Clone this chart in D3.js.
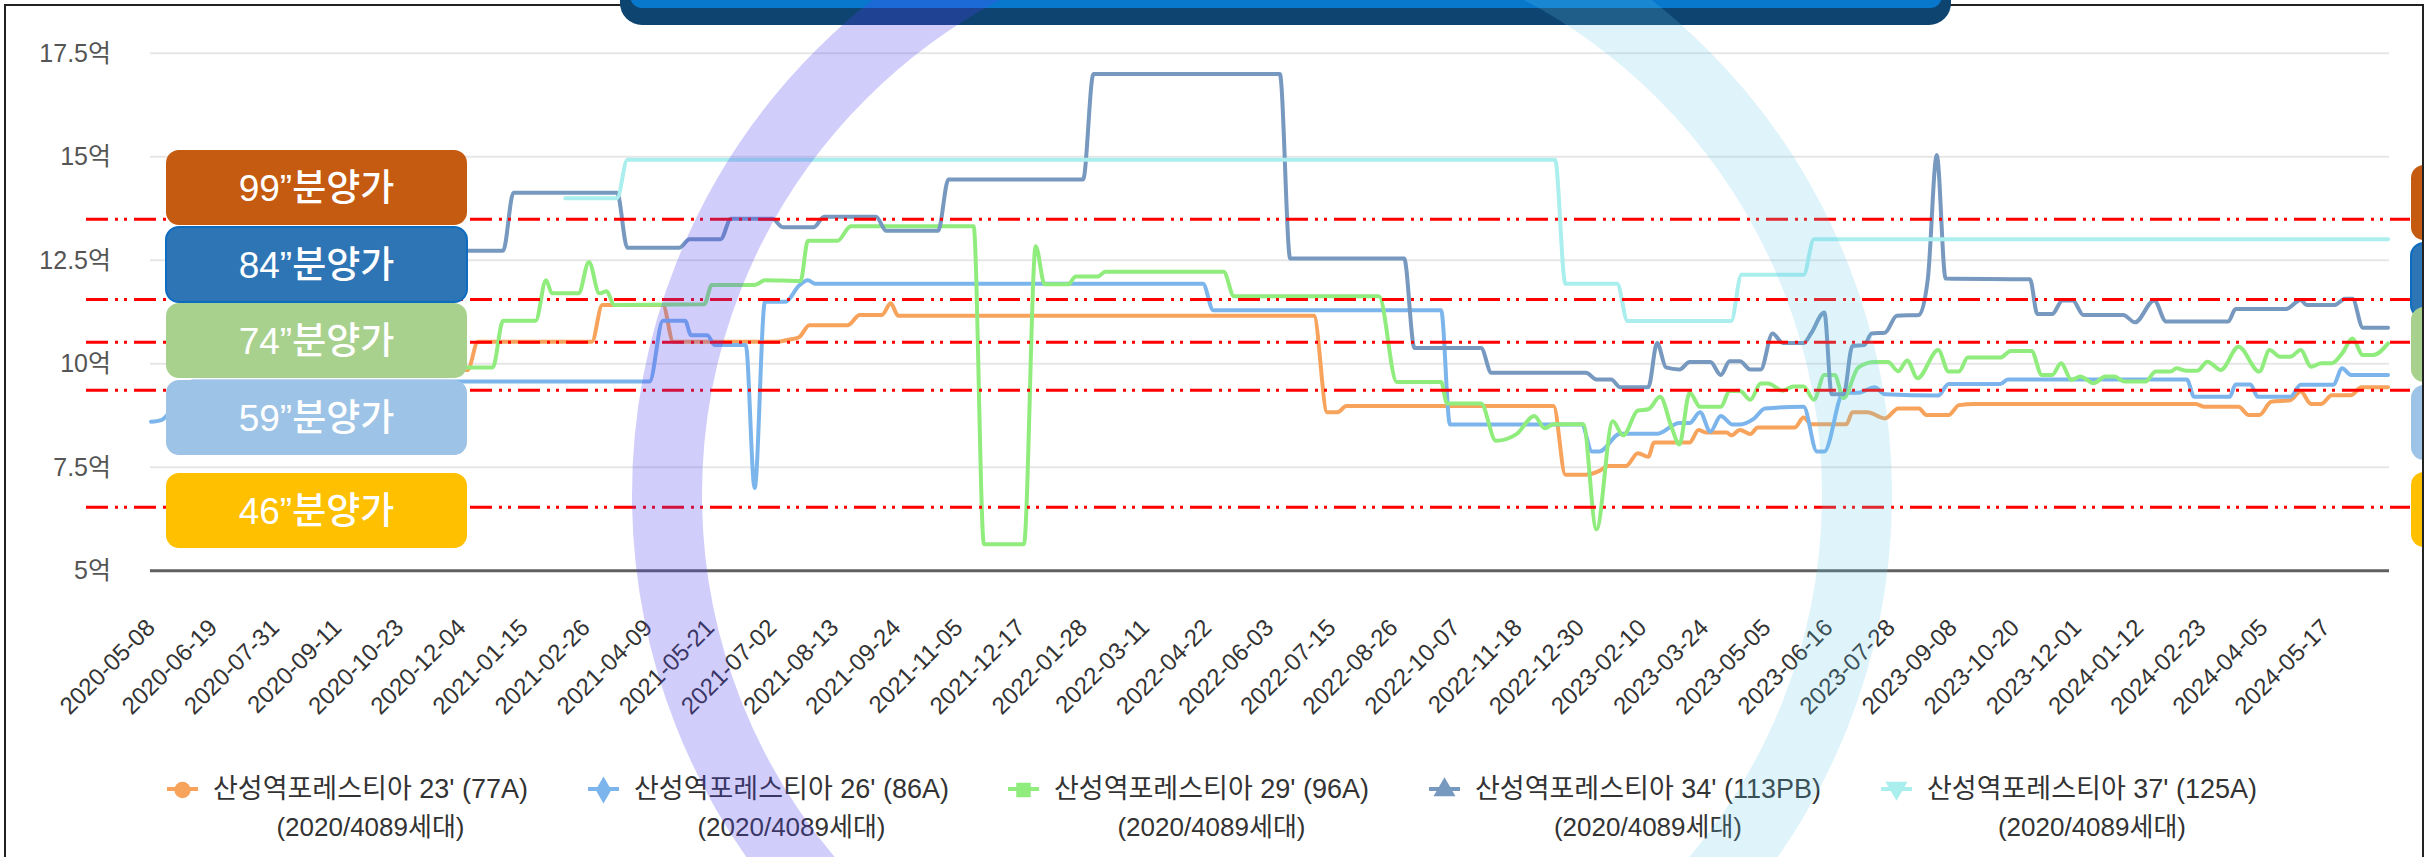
<!DOCTYPE html>
<html><head><meta charset="utf-8">
<script src="https://cdn.jsdelivr.net/npm/d3@7"></script>
<style>html,body{margin:0;padding:0;background:#fff;overflow:hidden} svg{display:block}</style>
</head><body>
<svg id="chart" width="2428" height="857"></svg>
<script>
// ---------------- DATA ----------------
const startDate = "2020-05-08";   // week 0 of the series below
const endDate   = "2024-06-28";
const tickLabels = ["2020-05-08","2020-06-19","2020-07-31","2020-09-11","2020-10-23","2020-12-04",
  "2021-01-15","2021-02-26","2021-04-09","2021-05-21","2021-07-02","2021-08-13","2021-09-24",
  "2021-11-05","2021-12-17","2022-01-28","2022-03-11","2022-04-22","2022-06-03","2022-07-15",
  "2022-08-26","2022-10-07","2022-11-18","2022-12-30","2023-02-10","2023-03-24","2023-05-05",
  "2023-06-16","2023-07-28","2023-09-08","2023-10-20","2023-12-01","2024-01-12","2024-02-23",
  "2024-04-05","2024-05-17"];
const yTicks = [5, 7.5, 10, 12.5, 15, 17.5];
const seriesNames = ["산성역포레스티아 23' (77A)","산성역포레스티아 26' (86A)","산성역포레스티아 29' (96A)",
  "산성역포레스티아 34' (113PB)","산성역포레스티아 37' (125A)"];
const seriesSub = "(2020/4089세대)";
const seriesColors = ["#F7A35C","#7CB5EC","#90ED7D","#7798BF","#AAEEEE"];

// [weeks after startDate, price in 억]
const s23 = [[4,9.85],[30.6,9.85],[31.5,10.53],[42.6,10.53],[43.5,11.42],[49.4,11.42],[50.4,10.53],[60.3,10.53],
  [61.5,10.58],[62.6,10.64],[63.6,10.93],[67.3,10.93],[68.4,11.18],[70.6,11.18],[71.4,11.46],[72.2,11.16],
  [112.3,11.16],[113.6,8.83],[114.6,8.83],[115.4,8.98],[135.4,8.98],[136.5,7.32],[138.6,7.32],[139.9,7.41],
  [140.7,7.53],[142.4,7.53],[143.5,7.84],[144.5,7.75],[145.2,8.1],[148.6,8.1],[149.4,8.4],[150.1,8.34],
  [152.2,8.34],[152.6,8.27],[153.4,8.4],[154.4,8.3],[155.2,8.46],[158.7,8.46],[159.5,8.7],[160.3,8.54],
  [163.7,8.54],[164.3,8.83],[165.7,8.83],[167.4,8.68],[168.7,8.92],[170.7,8.92],[171.4,8.76],[173.5,8.76],
  [174.5,9.0],[176.1,9.03],[197.4,9.03],[198.3,8.96],[201.5,8.96],[202.5,8.76],[203.6,8.76],[204.7,9.08],
  [206.6,9.12],[207.6,9.33],[208.6,9.03],[209.5,9.03],[210.5,9.24],[212.4,9.24],[213.4,9.43],[216,9.43]];
const s26 = [[0,8.6],[1,8.64],[4,9.57],[48.2,9.57],[49.4,11.04],[51.5,11.04],[52.2,10.69],[53.7,10.69],
  [54.4,10.45],[57.4,10.45],[58.3,7.0],[59.3,11.5],[61.3,11.5],[62.5,11.89],[63.4,12.02],[64.2,11.93],
  [101.6,11.93],[102.5,11.29],[124.5,11.29],[125.4,8.53],[138.1,8.53],[139.2,7.88],[139.9,7.88],[141.8,8.31],
  [145.4,8.31],[147.6,8.57],[148.6,8.57],[149.6,8.83],[150.5,8.36],[151.6,8.74],[152.7,8.53],[153.4,8.53],
  [154.7,8.66],[155.9,8.92],[159.5,8.96],[160.8,7.88],[161.5,7.88],[163.4,9.3],[164.8,9.3],[166.4,9.43],
  [167.4,9.26],[172.5,9.23],[173.5,9.51],[178.5,9.51],[179.3,9.62],[196.5,9.62],[197.3,9.2],[200.7,9.2],
  [201.3,9.5],[202.7,9.5],[203.4,9.2],[206.6,9.2],[207.5,9.49],[210.7,9.49],[211.5,9.89],[212.4,9.73],[216,9.73]];
const s29 = [[4,9.91],[33,9.91],[34,11.04],[37.2,11.04],[38.1,12.02],[38.7,11.7],[41.3,11.7],[42.3,12.46],
  [43.3,11.7],[44,11.75],[44.7,11.42],[53.4,11.44],[54.1,11.9],[58.3,11.9],[59.3,12.02],[62.7,12.0],
  [63.4,12.97],[66.3,12.97],[67.6,13.32],[79.4,13.32],[80.4,5.64],[84.3,5.64],[85.4,12.84],[86.3,11.92],
  [88.5,11.92],[89.3,12.11],[91.4,12.11],[92.2,12.22],[103.5,12.22],[104.6,11.63],[118.6,11.63],[120.3,9.56],
  [124.5,9.56],[125.2,9.04],[128.4,9.04],[129.9,8.14],[131.8,8.3],[133.6,8.74],[134.6,8.44],[135.4,8.54],
  [138.3,8.54],[139.5,6.0],[141.1,8.61],[142.2,8.27],[143.5,8.87],[144.5,8.9],[145.7,9.2],[146.9,8.44],
  [147.5,8.05],[148.6,9.3],[149.6,8.96],[151.6,8.96],[152.4,9.34],[153.4,9.34],[154.4,9.13],[155.4,9.52],
  [156.2,9.52],[157.5,9.35],[158.5,9.45],[159.5,9.45],[160.6,9.13],[161.5,9.73],[162.5,9.73],[163.4,9.17],
  [164.9,9.91],[166.4,10.04],[167.7,10.04],[168.7,9.82],[169.5,10.08],[170.5,9.65],[172.5,10.33],[173.5,9.81],
  [174.5,9.81],[175.4,10.15],[178.5,10.15],[179.6,10.31],[181.5,10.31],[182.5,9.73],[183.5,9.73],[184.4,10.01],
  [185.4,9.61],[186.3,9.69],[187.5,9.53],[188.7,9.69],[189.6,9.69],[190.6,9.57],[192.5,9.57],[193.5,9.81],
  [195,9.81],[195.6,9.89],[196.5,9.83],[197.6,9.83],[198.6,10.05],[199.8,9.85],[201.5,10.41],[203.6,9.81],
  [204.6,10.33],[205.6,10.17],[206.5,10.17],[207.6,10.33],[208.6,9.93],[209.5,10.01],[210.5,10.01],
  [211.5,10.25],[212.6,10.61],[213.6,10.21],[214.5,10.21],[216,10.49]];
const s34 = [[4,12.73],[34,12.73],[35,14.13],[45,14.13],[46,12.8],[51,12.8],[52,13.01],[55,13.01],[56,13.5],
  [60,13.5],[61,13.3],[64,13.3],[65,13.55],[70,13.55],[71,13.21],[76,13.21],[77,14.45],[90,14.45],[91,17.0],
  [109,17.0],[110,12.54],[121,12.54],[122,10.38],[128.4,10.38],[129.4,9.78],[138.6,9.78],[139.6,9.62],[141,9.62],
  [141.8,9.43],[144.5,9.43],[145.4,10.5],[146.3,9.91],[147.6,9.86],[148.6,10.04],[150.6,10.04],[151.5,9.73],
  [152.4,10.06],[153.4,10.06],[154.4,9.86],[155.4,9.86],[156.5,10.73],[157.5,10.5],[159.5,10.5],[160.3,10.73],
  [161.5,11.24],[162.3,9.26],[163.4,9.26],[164.3,10.43],[165.4,10.45],[166.2,10.73],[167.4,10.75],[168.5,11.16],
  [170.7,11.18],[171.5,12.06],[172.4,15.04],[173.3,12.06],[181.4,12.04],[182.2,11.2],[183.5,11.2],[184.5,11.53],
  [185.6,11.53],[186.5,11.18],[190.4,11.18],[191.6,11.0],[193.4,11.53],[194.5,11.02],[200.5,11.02],[201.3,11.32],
  [206.1,11.32],[207.5,11.54],[208.2,11.42],[210.8,11.42],[211.8,11.57],[212.6,11.57],[213.6,10.87],[216,10.87]];
const s37 = [[40,14.0],[45,14.0],[46,14.93],[135.5,14.93],[136.5,11.93],[141.5,11.93],[142.5,11.03],
  [152.5,11.03],[153.5,12.15],[159.5,12.15],[160.5,13.01],[216,13.01]];
const seriesData = [s23, s26, s29, s34, s37];

// reference (분양가) annotation lines
const refLabels = ["99”분양가","84”분양가","74”분양가","59”분양가","46”분양가"];
const refValues = [13.49, 11.55, 10.52, 9.36, 6.53];
const refColors = ["#C55A11","#2E75B6","#A9D18E","#9DC3E6","#FFC000"];

// ---------------- LAYOUT ----------------
const W = 2428, H = 857;
const svg = d3.select("#chart");
const parse = d3.utcParse("%Y-%m-%d");
const t0 = parse(startDate);
const weekDate = w => d3.utcDay.offset(t0, Math.round(w * 7));

const x = d3.scaleUtc().domain([t0, parse(endDate)]).range([151, 2388]);
const y = d3.scaleLinear().domain([5, 17.5]).range([570.7, 53.3]);
const font = "'Liberation Sans', Arial, 'Noto Sans CJK KR', sans-serif";

const defs = svg.append("defs");
const rg = defs.append("linearGradient").attr("id","ringGrad")
  .attr("gradientUnits","userSpaceOnUse").attr("x1",640).attr("y1",0).attr("x2",1890).attr("y2",0);
rg.append("stop").attr("offset",0.38).attr("stop-color","#5040F0").attr("stop-opacity",0.26);
rg.append("stop").attr("offset",0.62).attr("stop-color","#60C4EA").attr("stop-opacity",0.2);

svg.append("rect").attr("width",W).attr("height",H).attr("fill","#fff");

// gridlines
svg.append("g").selectAll("line").data(yTicks.filter(t => t > 5)).join("line")
  .attr("x1",150).attr("x2",2389).attr("y1",d=>y(d)).attr("y2",d=>y(d))
  .attr("stroke","#e6e6e6").attr("stroke-width",2);
svg.append("line").attr("x1",150).attr("x2",2389).attr("y1",y(5)).attr("y2",y(5))
  .attr("stroke","#5f5f5f").attr("stroke-width",3);

// y axis
const yAxis = svg.append("g").attr("transform","translate(111,0)")
  .call(d3.axisLeft(y).tickValues(yTicks).tickFormat(d => d + "억").tickSize(0).tickPadding(0));
yAxis.select(".domain").remove();
yAxis.selectAll("text").attr("font-family",font).attr("font-size",25).attr("fill","#555");

// x axis
const tickDates = tickLabels.map(parse);
const xAxis = svg.append("g").attr("transform","translate(0,629)")
  .call(d3.axisBottom(x).tickValues(tickDates).tickFormat((d,i) => tickLabels[i]).tickSize(0));
xAxis.select(".domain").remove();
xAxis.selectAll("text").attr("font-family",font).attr("font-size",24).attr("fill","#333")
  .attr("text-anchor","end").attr("x",5).attr("y",0).attr("dy",0)
  .attr("transform","rotate(-45,5,0)");

// series
const line = d3.line().x(d => x(weekDate(d[0]))).y(d => y(d[1])).curve(d3.curveMonotoneX);
svg.append("g").selectAll("path").data(seriesData).join("path")
  .attr("d", line).attr("fill","none").attr("stroke",(d,i)=>seriesColors[i])
  .attr("stroke-width",4).attr("stroke-linejoin","round").attr("stroke-linecap","round");

// red reference lines
svg.append("g").selectAll("line").data(refValues).join("line")
  .attr("x1",86).attr("x2",2410).attr("y1",d=>y(d)).attr("y2",d=>y(d))
  .attr("stroke","#FF0000").attr("stroke-width",3).attr("stroke-dasharray","22,7,3,6,3,7");

// left label boxes
const boxTops = [150, 227, 303, 380, 473];
const lb = svg.append("g").selectAll("g").data(refLabels).join("g");
lb.append("rect").attr("x",166).attr("y",(d,i)=>boxTops[i]).attr("width",301).attr("height",75).attr("rx",13)
  .attr("fill",(d,i)=>refColors[i]).attr("stroke",(d,i)=> i===1 ? "#0E6CC0" : "none").attr("stroke-width",2);
lb.append("text").attr("x",316.5).attr("y",(d,i)=>boxTops[i]+38).attr("dominant-baseline","central")
  .attr("text-anchor","middle").attr("font-family",font).attr("font-size",37).attr("font-weight",500)
  .attr("fill","#fff").text(d=>d);

// right partial boxes
const rTops = [165, 243, 307, 385, 472];
svg.append("g").selectAll("rect").data(refColors).join("rect")
  .attr("x",2411).attr("y",(d,i)=>rTops[i]).attr("width",60).attr("height",75).attr("rx",13)
  .attr("fill",d=>d).attr("stroke",(d,i)=> i===1 ? "#0E6CC0" : "none").attr("stroke-width",2);
svg.append("rect").attr("x",2424).attr("y",0).attr("width",10).attr("height",H).attr("fill","#fff");

// legend
const legX = [167, 588, 1008, 1429, 1881];
const symbols = [d3.symbolCircle, d3.symbolDiamond, d3.symbolSquare, d3.symbolTriangle, d3.symbolTriangle];
const lg = svg.append("g").selectAll("g").data(seriesNames).join("g")
  .attr("transform",(d,i)=>`translate(${legX[i]},789)`);
lg.append("line").attr("x1",0).attr("x2",31).attr("stroke",(d,i)=>seriesColors[i]).attr("stroke-width",4);
lg.append("path").attr("d",(d,i)=>d3.symbol(symbols[i], 210)())
  .attr("transform",(d,i)=>`translate(15.5,${i===4?-1:1}) rotate(${i===4?180:0})`)
  .attr("fill",(d,i)=>seriesColors[i]);
lg.each(function(d){
  const g = d3.select(this);
  const t = g.append("text").attr("x",46).attr("y",0).attr("dominant-baseline","central")
    .attr("font-family",font).attr("font-size",27).attr("fill","#333").text(d);
  const w = t.node().getComputedTextLength();
  g.append("text").attr("x",46 + w/2).attr("y",38).attr("dominant-baseline","central").attr("text-anchor","middle")
    .attr("font-family",font).attr("font-size",26).attr("fill","#333").text(seriesSub);
});

// frame
svg.append("rect").attr("x",5).attr("y",5).attr("width",2418).attr("height",900)
  .attr("fill","none").attr("stroke","#222").attr("stroke-width",2);

// title bar (cut off at top)
svg.append("rect").attr("x",620).attr("y",-40).attr("width",1331).attr("height",65).attr("rx",22).attr("fill","#0D4470");
svg.append("rect").attr("x",630).attr("y",-40).attr("width",1312).attr("height",48).attr("rx",12).attr("fill","#0878CC");

// watermark ring (semi-transparent overlay)
svg.append("circle").attr("cx",1262).attr("cy",495).attr("r",595)
  .attr("fill","none").attr("stroke","url(#ringGrad)").attr("stroke-width",70);
</script>
</body></html>
